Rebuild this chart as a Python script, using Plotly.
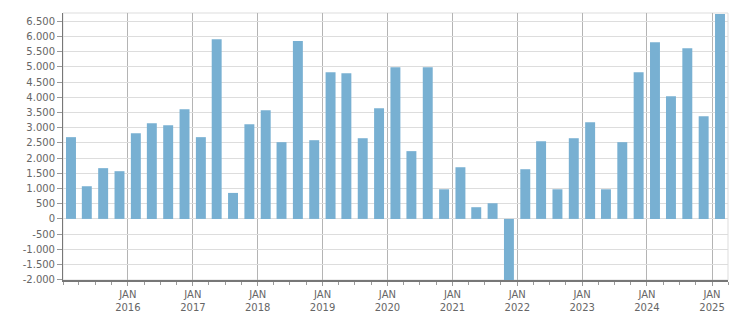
import plotly.graph_objects as go

# ---- data ----
quarters = [
    "2015-Q1", "2015-Q2", "2015-Q3", "2015-Q4",
    "2016-Q1", "2016-Q2", "2016-Q3", "2016-Q4",
    "2017-Q1", "2017-Q2", "2017-Q3", "2017-Q4",
    "2018-Q1", "2018-Q2", "2018-Q3", "2018-Q4",
    "2019-Q1", "2019-Q2", "2019-Q3", "2019-Q4",
    "2020-Q1", "2020-Q2", "2020-Q3", "2020-Q4",
    "2021-Q1", "2021-Q2", "2021-Q3", "2021-Q4",
    "2022-Q1", "2022-Q2", "2022-Q3", "2022-Q4",
    "2023-Q1", "2023-Q2", "2023-Q3", "2023-Q4",
    "2024-Q1", "2024-Q2", "2024-Q3", "2024-Q4",
    "2025-Q1",
]
values = [
    2690, 1075, 1670, 1570,
    2820, 3150, 3085, 3610,
    2690, 5910, 855, 3115,
    3575, 2525, 5855, 2590,
    4825, 4795, 2655, 3640,
    4990, 2230, 4990, 975,
    1700, 385, 515, -2100,
    1635, 2555, 975, 2655,
    3180, 975, 2525, 4825,
    5815, 4035, 5615, 3380,
    6740,
]
year_ticks = ["2016", "2017", "2018", "2019", "2020", "2021", "2022", "2023", "2024", "2025"]
y_tick_values = [-2000, -1500, -1000, -500, 0, 500, 1000, 1500, 2000, 2500,
                 3000, 3500, 4000, 4500, 5000, 5500, 6000, 6500]


def mid_quarter(q):
    y, qq = q.split("-Q")
    month = (int(qq) - 1) * 3 + 2
    return f"{y}-{month:02d}-15"


def fmt(v):
    s = f"{abs(v):,}".replace(",", ".")
    return ("-" + s) if v < 0 else s


x_dates = [mid_quarter(q) for q in quarters]
DAY_MS = 86400000

fig = go.Figure()
fig.add_trace(go.Bar(
    x=x_dates, y=values,
    marker=dict(color="#78b0d2", line=dict(width=0)),
    width=56 * DAY_MS,
    hoverinfo="x+y",
))

fig.update_layout(
    width=751, height=313,
    margin=dict(l=63, r=23, t=13, b=33),
    paper_bgcolor="white", plot_bgcolor="white",
    font=dict(family="DejaVu Sans", size=10, color="#666666"),
    showlegend=False,
    shapes=[dict(type="rect", xref="paper", yref="paper", x0=0, x1=1, y0=0, y1=1,
                 line=dict(color="#dddddd", width=1), layer="below")],
)

fig.update_xaxes(
    type="date",
    automargin=False,
    range=["2015-01-01", "2025-04-01"],
    tickvals=[f"{y}-01-01" for y in year_ticks],
    ticktext=[f"JAN<br>{y}" for y in year_ticks],
    showgrid=True, gridcolor="#b4b4b4", gridwidth=1,
    showline=True, linecolor="#777777", linewidth=2,
    ticks="outside", ticklen=4, tickcolor="#999999",
    minor=dict(dtick="M3", tick0="2015-01-01", ticks="outside", ticklen=3,
               tickcolor="#999999", showgrid=False),
    tickfont=dict(color="#666666", size=10),
    zeroline=False,
)

fig.update_yaxes(
    automargin=False,
    range=[-2010, 6775],
    tickvals=y_tick_values,
    ticktext=[fmt(v) for v in y_tick_values],
    showgrid=True, gridcolor="#dddddd", gridwidth=1,
    showline=True, linecolor="#777777", linewidth=1,
    ticks="outside", ticklen=5, tickcolor="#999999",
    tickfont=dict(color="#666666", size=10),
    zeroline=False,
)

fig.write_html("out.html")
